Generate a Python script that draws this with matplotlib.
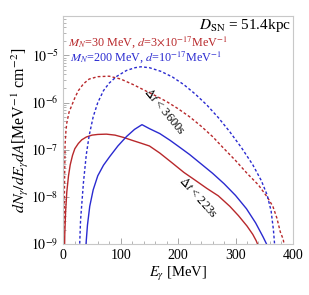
import matplotlib
matplotlib.use("Agg")
import matplotlib.pyplot as plt
import matplotlib.ticker as mticker
import numpy as np

# photon spectra (E in MeV, dN/dE dA in MeV^-1 cm^-2)
e_red_223 = [1.5, 2.5, 4, 6, 9, 12, 16, 20, 26, 32, 40, 50, 60, 75, 90, 105, 120,
             135, 150, 168, 190, 210, 230, 250, 270, 290, 305, 320, 330, 336, 340]
f_red_223 = [3e-10, 1.6e-9, 5e-9, 1.26e-8, 2.8e-8, 4.8e-8, 7.6e-8, 1.05e-7, 1.35e-7,
             1.62e-7, 1.86e-7, 2.04e-7, 2.11e-7, 2.14e-7, 2.04e-7, 1.82e-7, 1.58e-7,
             1.38e-7, 1.2e-7, 8.5e-8, 5.2e-8, 3.3e-8, 2.24e-8, 1.51e-8, 1.05e-8,
             6.3e-9, 4e-9, 2.4e-9, 1.6e-9, 1.17e-9, 8.9e-10]

e_red_3600 = [0.5, 1, 2, 3, 4.5, 6, 10, 15, 20, 26, 35, 45, 60, 80, 100, 122, 140,
              160, 180, 200, 220, 240, 260, 280, 300, 320, 340, 355, 365, 372, 378,
              383, 386]
f_red_3600 = [3e-10, 1e-9, 1.6e-8, 1.26e-7, 2.5e-7, 3.7e-7, 6.3e-7, 8.9e-7, 1.26e-6,
              1.78e-6, 2.5e-6, 3.16e-6, 3.55e-6, 3.63e-6, 3.16e-6, 2.4e-6, 1.86e-6,
              1.41e-6, 1.05e-6, 7.4e-7, 5e-7, 3.16e-7, 1.9e-7, 1.05e-7, 5.9e-8,
              3.16e-8, 1.78e-8, 1.0e-8, 6.3e-9, 3.55e-9, 1.8e-9, 1.26e-9, 7.9e-10]

e_blue_223 = [38.5, 39.5, 42, 46, 52, 60, 70, 81, 95, 110, 124, 137, 150, 168, 186,
              203, 220, 240, 260, 280, 300, 319, 335, 348, 354, 356]
f_blue_223 = [3e-10, 1e-9, 2.5e-9, 6.3e-9, 1.41e-8, 2.8e-8, 4.7e-8, 7.2e-8, 1.2e-7,
              1.9e-7, 2.7e-7, 3.4e-7, 2.8e-7, 2.2e-7, 1.58e-7, 1.12e-7, 7.9e-8,
              5e-8, 3.16e-8, 1.9e-8, 1.07e-8, 5.6e-9, 2.8e-9, 1.41e-9, 1e-9, 5e-10]

e_blue_3600 = [27.5, 28.5, 30, 35, 40, 45, 52, 60, 70, 80, 93, 110, 125, 135, 150,
               170, 190, 210, 230, 250, 270, 290, 310, 330, 345, 355, 362, 366, 368,
               369.5]
f_blue_3600 = [3e-10, 1e-9, 3.2e-9, 2e-8, 7.9e-8, 2e-7, 5e-7, 1e-6, 1.8e-6,
               2.6e-6, 3.6e-6, 4.8e-6, 5.5e-6, 5.75e-6, 5.5e-6, 4.6e-6, 3.5e-6,
               2.4e-6, 1.51e-6, 8.9e-7, 4.8e-7, 2.4e-7, 1.12e-7, 4.8e-8, 2.2e-8,
               1.1e-8, 5e-9, 2e-9, 1e-9, 4e-10]

red = "#b8282b"
blue = "#2a2ad0"

plt.rcParams["font.family"] = ["Liberation Serif", "DejaVu Serif"]
plt.rcParams["mathtext.fontset"] = "stix"

fig = plt.figure(figsize=(3.09, 2.95), dpi=100)
ax = fig.add_axes([0.205, 0.173, 0.743, 0.774])

ax.plot(e_red_223, f_red_223, color=red, lw=1.0)
ax.plot(e_blue_223, f_blue_223, color=blue, lw=1.0)
ax.plot(e_red_3600, f_red_3600, color=red, lw=1.0, ls=(0, (2, 1.6)))
ax.plot(e_blue_3600, f_blue_3600, color=blue, lw=1.0, ls=(0, (2, 1.6)))

ax.set_yscale("log")
ax.set_xlim(0, 400)
ax.set_ylim(1e-9, 7e-5)
ax.set_xticks([0, 100, 200, 300, 400])
ax.xaxis.set_minor_locator(mticker.MultipleLocator(20))
ax.yaxis.set_major_locator(mticker.LogLocator(base=10, numticks=10))
ax.yaxis.set_minor_locator(mticker.LogLocator(base=10, subs=np.arange(2, 10), numticks=20))
ax.yaxis.set_minor_formatter(mticker.NullFormatter())
ax.yaxis.set_major_formatter(mticker.FuncFormatter(
    lambda v, p: r"$10^{%d}$" % round(np.log10(v))))

for s in ax.spines.values():
    s.set_color("#c8c8c8")
    s.set_linewidth(0.8)
ax.tick_params(which="both", direction="in", color="#999999", labelsize=10,
               top=False, right=False)
ax.tick_params(which="major", length=4, width=0.6)
ax.tick_params(which="minor", length=2, width=0.5)

ax.set_xlabel(r"$E_\gamma$ [MeV]", fontsize=10.5, labelpad=2)
ax.set_ylabel(r"$dN_\gamma/dE_\gamma dA$[MeV$^{-1}$ cm$^{-2}$]",
              fontsize=11.5, labelpad=0)

ax.text(0.99, 0.955, r"$D_{\rm SN}$ = 51.4kpc", transform=ax.transAxes,
        ha="right", va="center", fontsize=11)
ax.text(0.02, 0.885, r"$M_N$=30 MeV, $d$=3$\times$10$^{-17}$MeV$^{-1}$",
        transform=ax.transAxes, ha="left", va="center", fontsize=8.7, color=red)
ax.text(0.03, 0.818, r"$M_N$=200 MeV, $d$=10$^{-17}$MeV$^{-1}$",
        transform=ax.transAxes, ha="left", va="center", fontsize=8.7, color=blue)

ax.text(177, 6.5e-7, r"$\Delta t$ < 3600s", rotation=-50, ha="center", va="center",
        fontsize=9)
ax.text(234, 1e-8, r"$\Delta t$ < 223s", rotation=-48, ha="center", va="center",
        fontsize=9)

fig.savefig("out.png", dpi=100)
